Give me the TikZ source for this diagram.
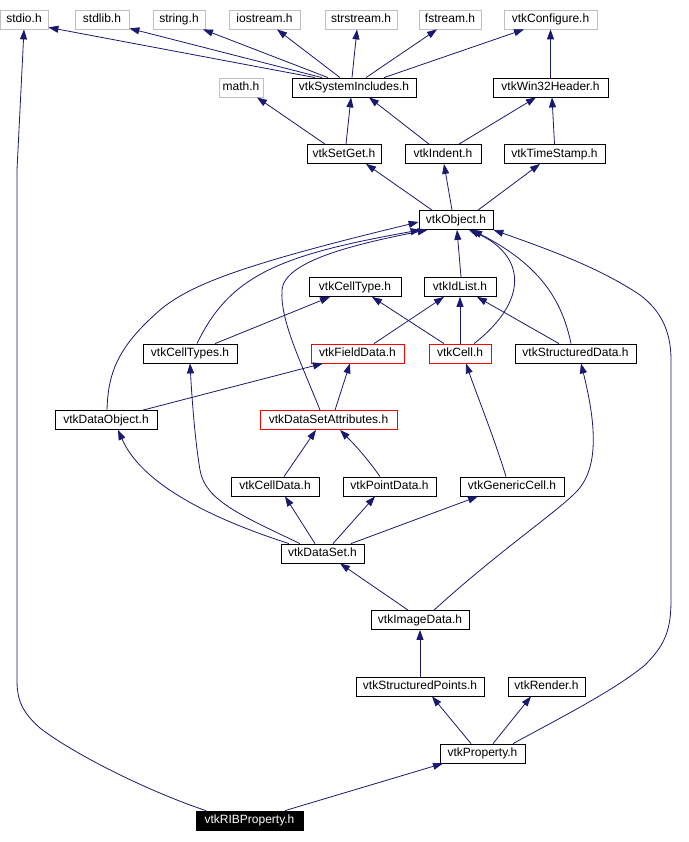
\documentclass[tikz,border=0pt]{standalone}
\usepackage{fontspec}
\setmainfont{Liberation Sans}
\usetikzlibrary{arrows.meta}
\definecolor{edgec}{HTML}{191970}
\definecolor{greyb}{HTML}{BFBFBF}
\begin{document}
\begin{tikzpicture}[x=1pt,y=-1pt,
  hbox/.style={draw=black, fill=white, line width=0.8pt, minimum height=19pt, inner sep=0pt,
    font=\fontsize{12}{14}\selectfont, text height=8.6pt, text depth=2.5pt},
  greybox/.style={hbox, draw=greyb},
  redbox/.style={hbox, draw=red},
  blackbox/.style={hbox, fill=black, text=white},
  dep/.style={draw=edgec, line width=0.8pt, -{Triangle[length=10pt,width=7pt]}}]
\useasboundingbox[fill=white] (0,0) rectangle (688,842);
% row 1
\node[greybox, minimum width=48pt] (stdio) at (24,19.5) {stdio.h};
\node[greybox, minimum width=54pt] (stdlib) at (102,19.5) {stdlib.h};
\node[greybox, minimum width=52pt] (string) at (179,19.5) {string.h};
\node[greybox, minimum width=71pt] (iostream) at (264.5,19.5) {iostream.h};
\node[greybox, minimum width=72pt] (strstream) at (361,19.5) {strstream.h};
\node[greybox, minimum width=62pt] (fstream) at (450,19.5) {fstream.h};
\node[greybox, minimum width=93pt] (config) at (550.5,19.5) {vtkConfigure.h};
% row 2
\node[greybox, minimum width=44pt] (math) at (241,87.5) {math.h};
\node[hbox, minimum width=124pt] (sys) at (354,87.5) {vtkSystemIncludes.h};
\node[hbox, minimum width=115pt] (win32) at (550.5,87.5) {vtkWin32Header.h};
% row 3
\node[hbox, minimum width=74pt] (setget) at (344,154) {vtkSetGet.h};
\node[hbox, minimum width=76pt] (indent) at (443,154) {vtkIndent.h};
\node[hbox, minimum width=101pt] (tstamp) at (554.5,154) {vtkTimeStamp.h};
% row 4
\node[hbox, minimum width=74pt] (object) at (456,220) {vtkObject.h};
% row 5
\node[hbox, minimum width=92pt] (celltype) at (355,287) {vtkCellType.h};
\node[hbox, minimum width=72pt] (idlist) at (460,287) {vtkIdList.h};
% row 6
\node[hbox, minimum width=94pt] (celltypes) at (190,353.5) {vtkCellTypes.h};
\node[redbox, minimum width=93pt] (field) at (357.5,353.5) {vtkFieldData.h};
\node[redbox, minimum width=62pt] (cell) at (460,353.5) {vtkCell.h};
\node[hbox, minimum width=121pt] (sdata) at (575.5,353.5) {vtkStructuredData.h};
% row 7
\node[hbox, minimum width=102pt] (dobj) at (106,420) {vtkDataObject.h};
\node[redbox, minimum width=137pt] (dsattr) at (328.5,420) {vtkDataSetAttributes.h};
% row 8
\node[hbox, minimum width=88pt] (celldata) at (275,486.5) {vtkCellData.h};
\node[hbox, minimum width=93pt] (pointdata) at (389.5,486.5) {vtkPointData.h};
\node[hbox, minimum width=104pt] (gcell) at (512,486.5) {vtkGenericCell.h};
% row 9
\node[hbox, minimum width=83pt] (dataset) at (322.5,553.5) {vtkDataSet.h};
% row 10
\node[hbox, minimum width=98pt] (image) at (420,620) {vtkImageData.h};
% row 11
\node[hbox, minimum width=128pt] (spoints) at (420,686.5) {vtkStructuredPoints.h};
\node[hbox, minimum width=77pt] (render) at (546.5,686.5) {vtkRender.h};
% row 12
\node[hbox, minimum width=85pt] (prop) at (482.5,753.5) {vtkProperty.h};
% row 13
\node[blackbox, minimum width=107pt] (rib) at (249.5,820.5) {vtkRIBProperty.h};

% edges from vtkSystemIncludes
\draw[dep] ([xshift=-39pt]sys.north) -- ([yshift=2pt]stdio.south east);
\draw[dep] ([xshift=-32pt]sys.north) -- ([yshift=1pt]stdlib.south east);
\draw[dep] ([xshift=-26pt]sys.north) -- ([xshift=24pt]string.south);
\draw[dep] ([xshift=-14pt]sys.north) -- ([xshift=12.5pt]iostream.south);
\draw[dep] ([xshift=-2pt]sys.north) -- ([xshift=-4pt]strstream.south);
\draw[dep] ([xshift=12pt]sys.north) -- ([xshift=-13pt]fstream.south);
\draw[dep] ([xshift=30pt]sys.north) -- ([xshift=-26.5pt]config.south);
\draw[dep] (win32.north) -- (config.south);
% row 3
\draw[dep] ([xshift=-19pt]setget.north) -- ([xshift=16pt]math.south);
\draw[dep] ([xshift=2pt]setget.north) -- ([xshift=-3pt]sys.south);
\draw[dep] ([xshift=-14pt]indent.north) -- ([xshift=15pt]sys.south);
\draw[dep] ([xshift=16pt]indent.north) -- ([xshift=-14.5pt]win32.south);
\draw[dep] (tstamp.north) -- ([xshift=1.5pt]win32.south);
% vtkObject
\draw[dep] ([xshift=-24pt]object.north) -- ([xshift=22pt]setget.south);
\draw[dep] ([xshift=-4pt]object.north) -- ([xshift=1pt]indent.south);
\draw[dep] ([xshift=22pt]object.north) -- ([xshift=-14.5pt]tstamp.south);
\draw[dep] ([xshift=1pt]idlist.north) -- ([xshift=1pt]object.south);
% row 6
\draw[dep] (cell.north) -- (idlist.south);
\draw[dep] ([xshift=14pt]cell.north) .. controls (530,300) and (525,255) .. ([xshift=13pt]object.south);
\draw[dep] ([xshift=-16pt]cell.north) -- ([xshift=17pt]celltype.south);
\draw[dep] ([xshift=16.5pt]field.north) -- ([xshift=-16pt]idlist.south);
\draw[dep] ([xshift=-16.5pt]sdata.north) -- ([xshift=17pt]idlist.south);
\draw[dep] ([xshift=-4.5pt]sdata.north) .. controls (562,300) and (540,265) .. ([xshift=16pt]object.south);
\draw[dep] ([xshift=25pt]celltypes.north) -- ([xshift=-25pt]celltype.south);
\draw[dep] ([xshift=7pt]celltypes.north) .. controls (230,275) and (280,255) .. ([xshift=2pt]object.south west);
% row 7
\draw[dep] ([xshift=1pt]dobj.north) .. controls (108,370) and (120,345) .. (160,310)
  .. controls (190,285) and (240,265) .. ([yshift=-2pt]object.west);
\draw[dep] ([xshift=-8.5pt]dsattr.north) .. controls (300,360) and (280,320) .. (282,290)
  .. controls (284,262) and (350,245) .. ([xshift=9pt]object.south west);
\draw[dep] ([xshift=37pt]dobj.north) -- ([xshift=-34.5pt]field.south);
\draw[dep] ([xshift=6.5pt]dsattr.north) -- ([xshift=-7.5pt]field.south);
% row 8
\draw[dep] ([xshift=-6pt]gcell.north) .. controls (495,440) and (475,390) .. ([xshift=6pt]cell.south);
\draw[dep] ([xshift=9pt]celldata.north) -- ([xshift=-12.5pt]dsattr.south);
\draw[dep] ([xshift=-9.5pt]pointdata.north) .. controls (365,455) and (350,440) .. ([xshift=11.5pt]dsattr.south);
% vtkDataSet
\draw[dep] ([xshift=-33.5pt]dataset.north) .. controls (200,515) and (140,480) .. ([xshift=12pt]dobj.south);
\draw[dep] ([xshift=-22.5pt]dataset.north) .. controls (240,515) and (205,500) .. (200,470)
  .. controls (195,440) and (192,400) .. (celltypes.south);
\draw[dep] ([xshift=-7.5pt]dataset.north) -- ([xshift=10pt]celldata.south);
\draw[dep] ([xshift=10.5pt]dataset.north) -- ([xshift=-14.5pt]pointdata.south);
\draw[dep] ([xshift=28.5pt]dataset.north) -- ([xshift=-34pt]gcell.south);
% vtkImageData
\draw[dep] ([xshift=-12pt]image.north) -- ([xshift=17.5pt]dataset.south);
\draw[dep] ([xshift=14pt]image.north) .. controls (500,550) and (560,510) .. (578,490)
  .. controls (600,465) and (595,420) .. ([xshift=5.5pt]sdata.south);
\draw[dep] (spoints.north) -- (image.south);
% vtkProperty
\draw[dep] ([xshift=-11.5pt]prop.north) -- ([xshift=12pt]spoints.south);
\draw[dep] ([xshift=10.5pt]prop.north) -- ([xshift=-15.5pt]render.south);
\draw[dep] ([xshift=30.5pt]prop.north) .. controls (560,718) and (615,690) .. (645,665)
  .. controls (665,645) and (671,630) .. (671,600) -- (671,360)
  .. controls (671,330) and (660,310) .. (640,295)
  .. controls (600,268) and (550,250) .. (object.south east);
% vtkRIBProperty
\draw[dep] ([xshift=35.5pt]rib.north) -- ([xshift=-39.5pt]prop.south);
\draw[dep] ([xshift=-43.5pt]rib.north) .. controls (150,792) and (75,755) .. (40,728)
  .. controls (22,712) and (17,700) .. (17,680) -- (17,170) -- (stdio.south);
\end{tikzpicture}
\end{document}
